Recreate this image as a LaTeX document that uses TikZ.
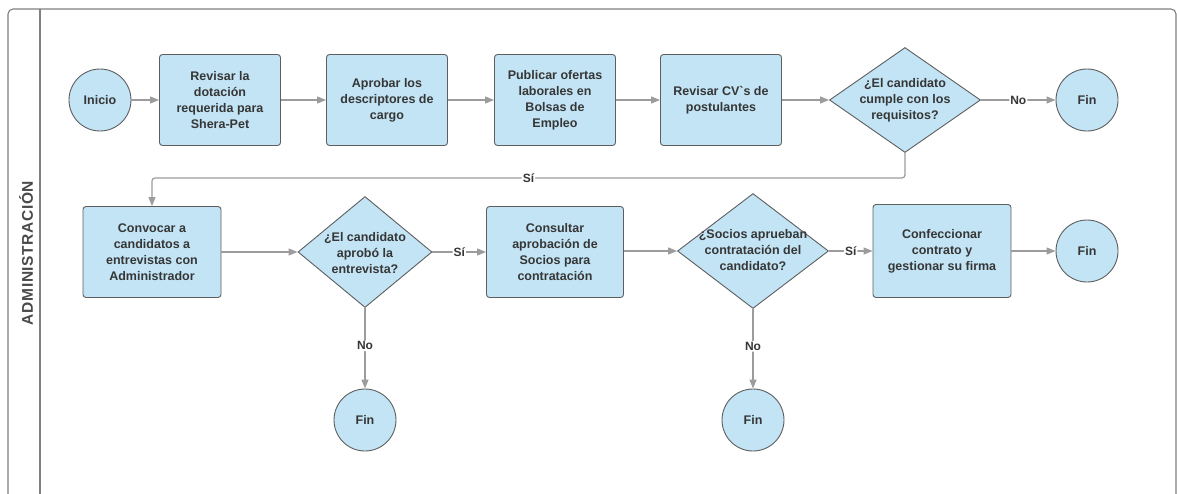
\documentclass[tikz,border=0pt]{standalone}
\usepackage{fontspec}
\setmainfont{Liberation Sans}
\usetikzlibrary{shapes.geometric,arrows.meta}
\definecolor{boxfill}{HTML}{C2E4F5}
\definecolor{boxline}{HTML}{5E5E5E}
\definecolor{flowline}{HTML}{9C9C9C}
\definecolor{txt}{HTML}{363636}
\definecolor{laneline}{HTML}{808080}
\tikzset{
  x=1pt, y=-1pt,
  every node/.style={text=txt},
  procbox/.style={rectangle, rounded corners=3pt, draw=boxline, line width=0.9pt,
    fill=boxfill, minimum width=121pt, minimum height=91pt, inner sep=0pt,
    align=center, font=\bfseries\fontsize{12.5}{16}\selectfont},
  widebox/.style={procbox, minimum width=138pt},
  decision/.style={diamond, draw=boxline, line width=0.9pt, fill=boxfill, inner sep=0pt},
  dtext/.style={align=center, inner sep=0pt, font=\bfseries\fontsize{12.5}{16}\selectfont},
  terminal/.style={circle, draw=boxline, line width=0.9pt, fill=boxfill,
    minimum size=62pt, inner sep=0pt, font=\bfseries\fontsize{12.5}{15}\selectfont},
  flow/.style={draw=flowline, line width=1.2pt, rounded corners=3pt,
    -{Triangle[length=9pt,width=7pt]}},
  lbl/.style={fill=white, inner sep=1pt, font=\bfseries\fontsize{12}{14}\selectfont},
  lane/.style={draw=laneline, line width=1.1pt}
}
\begin{document}
\begin{tikzpicture}
\useasboundingbox (0,0) rectangle (1177,493);
\clip (0,0) rectangle (1177,493);
\fill[white] (0,0) rectangle (1177,493);

% pool frame and lane header
\draw[lane, rounded corners=5pt] (8,520) -- (8,9) -- (1176,9) -- (1176,520);
\draw[lane] (40,9) -- (40,520);
\node[rotate=90, text=txt!90!white, font=\bfseries\fontsize{15.5}{17}\selectfont\addfontfeature{LetterSpace=4}] (lanename) at (26,253) {ADMINISTRACIÓN};

% first row
\node[terminal] (inicio) at (100,100) {Inicio};
\node[procbox] (dotacion) at (220,100) {Revisar la\\dotación\\requerida para\\Shera-Pet};
\node[procbox] (descript) at (387,100) {Aprobar los\\descriptores de\\cargo};
\node[procbox] (publicar) at (555,100) {Publicar ofertas\\laborales en\\Bolsas de\\Empleo};
\node[procbox] (revisarcv) at (721,100) {Revisar CV\textasciigrave s de\\postulantes};
\node[decision, minimum width=151pt, minimum height=105pt] (cumple) at (905,100) {};
\node[dtext] (cumpletxt) at (cumple) {¿El candidato\\cumple con los\\requisitos?};
\node[terminal] (fin1) at (1087,100) {Fin};

% second row
\node[widebox] (convocar) at (152,252) {Convocar a\\candidatos a\\entrevistas con\\Administrador};
\node[decision, minimum width=134pt, minimum height=111pt] (aprobo) at (365,252) {};
\node[dtext] (aprobotxt) at (365,253) {¿El candidato\\aprobó la\\entrevista?};
\node[procbox, minimum width=137pt] (consultar) at (555,252) {Consultar\\aprobación de\\Socios para\\contratación};
\node[decision, minimum width=151pt, minimum height=115pt] (socios) at (753,251) {};
\node[dtext] (sociostxt) at (753,250) {¿Socios aprueban\\contratación del\\candidato?};
\node[widebox, minimum height=93pt] (contrato) at (942,251) {Confeccionar\\contrato y\\gestionar su firma};
\node[terminal] (fin2) at (1087,251) {Fin};

% third row
\node[terminal] (fin3) at (365,420) {Fin};
\node[terminal] (fin4) at (753,420) {Fin};

% connectors
\draw[flow] (inicio) -- (dotacion);
\draw[flow] (dotacion) -- (descript);
\draw[flow] (descript) -- (publicar);
\draw[flow] (publicar) -- (revisarcv);
\draw[flow] (revisarcv) -- (cumple);
\draw[flow] (cumple) -- node[lbl]{No} (fin1);
\draw[flow] (cumple.south) -- ++(0,25) -| node[lbl, pos=0.25]{Sí} (convocar.north);
\draw[flow] (convocar) -- (aprobo);
\draw[flow] (aprobo) -- node[lbl]{Sí} (consultar);
\draw[flow] (aprobo.south) -- node[lbl, pos=0.47]{No} (fin3);
\draw[flow] (consultar.east |- socios.west) -- (socios.west);
\draw[flow] (socios.east) -- node[lbl]{Sí} (contrato.west);
\draw[flow] (socios.south) -- node[lbl, pos=0.47]{No} (fin4);
\draw[flow] (contrato.east) -- (fin2);
\end{tikzpicture}
\end{document}
